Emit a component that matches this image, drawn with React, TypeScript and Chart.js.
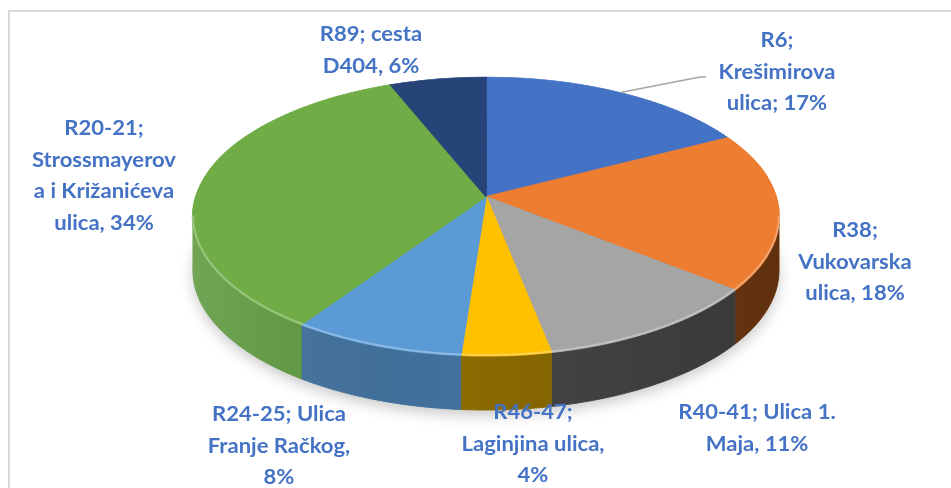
import React, { useEffect, useRef } from 'react';
import { Chart, registerables } from 'chart.js';

Chart.register(...registerables);

// ---- data ----
const categories = [
  'R6; Krešimirova ulica',
  'R38; Vukovarska ulica',
  'R40-41; Ulica 1. Maja',
  'R46-47; Laginjina ulica',
  'R24-25; Ulica Franje Račkog',
  'R20-21; Strossmayerova i Križanićeva ulica',
  'R89; cesta D404',
];
const values = [17.4, 18.3, 11.2, 4.3, 8.3, 34.4, 6.1];
// label text as wrapped in the picture; {p} is replaced by the percentage
const labelLines = [
  ['R6;', 'Krešimirova', 'ulica; {p}'],
  ['R38;', 'Vukovarska', 'ulica, {p}'],
  ['R40-41; Ulica 1.', 'Maja, {p}'],
  ['R46-47;', 'Laginjina ulica,', '{p}'],
  ['R24-25; Ulica', 'Franje Račkog,', '{p}'],
  ['R20-21;', 'Strossmayerov', 'a i Križanićeva', 'ulica, {p}'],
  ['R89; cesta', 'D404, {p}'],
];

// ---- styles / layout ----
const COLORS = ['#4472C4', '#ED7D31', '#A5A5A5', '#FFC000', '#5B9BD5', '#70AD47', '#264478'];
const SIDE_COLORS = ['#2f5597', '#7a3d12', '#474747', '#8c6b00', '#41719c', '#5f9a3f', '#1d3560'];
const DEPTH = 54;
const PERSPECTIVE = 1 / 7;
const STRIP = 2;
const LABEL_COLOR = '#4472C4';
const LABEL_FONT = '700 21px Lato';
const LABEL_XSCALE = 1.05;
const LINE_H = 31.5;
// [center x, first baseline y]
const LABEL_POS: [number, number][] = [
  [777, 47],
  [855, 237],
  [757, 419],
  [533, 419],
  [279, 421],
  [104, 135],
  [371, 41],
];
const LEADER_END: [number, number, number][] = [[700, 77, 706]]; // for slice 0

function geometry(chart: any) {
  const a = chart.chartArea;
  const k = PERSPECTIVE;
  const H = a.bottom - a.top - DEPTH;
  const B = (H * (1 - k * k)) / 2;
  const ay = a.top + B / (1 + k);
  const rx = (a.right - a.left) / 2;
  const A = rx * Math.sqrt(1 - k * k);
  const cx = (a.left + a.right) / 2;
  const project = (u: number, v: number): [number, number] => {
    const d = 1 - k * v;
    return [cx + (A * u) / d, ay + (B * v) / d];
  };
  return { cx, ay, A, B, k, H, top: a.top, project };
}

const pie3d = {
  id: 'pie3d',
  beforeDraw(chart: any) {
    const ctx = chart.ctx;
    ctx.save();
    ctx.strokeStyle = '#D9D9D9';
    ctx.lineWidth = 2;
    ctx.beginPath();
    ctx.moveTo(9, chart.height + 4);
    ctx.lineTo(9, 11);
    ctx.lineTo(chart.width + 4, 11);
    ctx.stroke();
    ctx.restore();
  },
  beforeDatasetsDraw(chart: any) {
    const ctx = chart.ctx;
    const arcs = chart.getDatasetMeta(0).data as any[];
    if (!arcs.length) return;
    const { cx, ay, A, B, k, H, top, project } = geometry(chart);
    const a0 = arcs[0];
    const cx0 = a0.x, cy0 = a0.y, r0 = a0.outerRadius;

    const rimPath = (t1: number, t2: number, dy: number, move: boolean) => {
      const n = Math.max(2, Math.ceil(Math.abs(t2 - t1) / 0.01));
      for (let j = 0; j <= n; j++) {
        const t = t1 + ((t2 - t1) * j) / n;
        const [x, y] = project(Math.cos(t), Math.sin(t));
        if (j === 0 && move) ctx.moveTo(x, y + dy);
        else ctx.lineTo(x, y + dy);
      }
    };

    // soft shadow
    ctx.save();
    ctx.filter = 'blur(7px)';
    ctx.fillStyle = 'rgba(0,0,0,0.22)';
    ctx.beginPath();
    rimPath(0, Math.PI * 2, DEPTH + 5, true);
    ctx.closePath();
    ctx.fill();
    ctx.restore();

    // side walls (front-facing part of each slice's rim)
    const f1 = Math.asin(k), f2 = Math.PI - Math.asin(k);
    const [lx] = project(-1, 0);
    const [rxp] = project(1, 0);
    arcs.forEach((arc, i) => {
      const t1 = Math.max(arc.startAngle, f1);
      const t2 = Math.min(arc.endAngle, f2);
      if (t2 <= t1) return;
      ctx.save();
      ctx.beginPath();
      rimPath(t1, t2, 0, true);
      rimPath(t2, t1, DEPTH, false);
      ctx.closePath();
      ctx.fillStyle = SIDE_COLORS[i];
      ctx.strokeStyle = SIDE_COLORS[i];
      ctx.lineWidth = 1;
      ctx.fill();
      ctx.stroke();
      const g = ctx.createLinearGradient(lx - 10, 0, rxp + 10, 0);
      g.addColorStop(0, 'rgba(255,255,255,0.12)');
      g.addColorStop(0.45, 'rgba(0,0,0,0)');
      g.addColorStop(1, 'rgba(0,0,0,0.22)');
      ctx.fillStyle = g;
      ctx.fill();
      ctx.restore();
    });

    // top face: library arcs drawn through a perspective projection, strip by strip
    for (let ys = Math.floor(top) - 1; ys < top + H + 2; ys += STRIP) {
      const y0 = ys + STRIP / 2;
      const dy = y0 - ay;
      const v0 = dy / (B + k * dy);
      const den = 1 - k * v0;
      const s = A / den;
      const gy = B / (den * den);
      ctx.save();
      ctx.beginPath();
      ctx.rect(0, ys, chart.width, STRIP);
      ctx.clip();
      ctx.translate(cx, y0);
      ctx.scale(s / r0, gy / r0);
      ctx.translate(-cx0, -(cy0 + v0 * r0));
      arcs.forEach((arc) => arc.draw(ctx));
      ctx.restore();
    }

    // rim highlight
    ctx.save();
    ctx.strokeStyle = 'rgba(255,255,255,0.3)';
    ctx.lineWidth = 2;
    ctx.beginPath();
    rimPath(f1, f2, -1, true);
    ctx.stroke();
    ctx.restore();
    return false;
  },
  afterDraw(chart: any) {
    const ctx = chart.ctx;
    const arcs = chart.getDatasetMeta(0).data as any[];
    const { project } = geometry(chart);
    const total = values.reduce((s, v) => s + v, 0);
    LEADER_END.forEach(([ex, ey, ex2], i) => {
      const arc = arcs[i];
      const mid = (arc.startAngle + arc.endAngle) / 2;
      const [sx, sy] = project(Math.cos(mid), Math.sin(mid));
      ctx.save();
      ctx.strokeStyle = '#A6A6A6';
      ctx.lineWidth = 1.5;
      ctx.beginPath();
      ctx.moveTo(sx, sy);
      ctx.lineTo(ex, ey);
      ctx.lineTo(ex2, ey);
      ctx.stroke();
      ctx.restore();
    });
    ctx.save();
    ctx.font = LABEL_FONT;
    ctx.fillStyle = LABEL_COLOR;
    ctx.textAlign = 'center';
    ctx.textBaseline = 'alphabetic';
    labelLines.forEach((lines, i) => {
      const p = Math.round((values[i] / total) * 100) + '%';
      const [x, y] = LABEL_POS[i];
      lines.forEach((ln, j) => {
        ctx.save();
        ctx.translate(x, y + j * LINE_H);
        ctx.scale(LABEL_XSCALE, 1);
        ctx.fillText(ln.replace('{p}', p), 0, 0);
        ctx.restore();
      });
    });
    ctx.restore();
  },
};

export default function App() {
  const ref = useRef<HTMLCanvasElement>(null);
  useEffect(() => {
    if (!ref.current) return;
    const chart = new Chart(ref.current, {
      type: 'pie',
      data: {
        labels: categories,
        datasets: [
          {
            data: values,
            backgroundColor: COLORS,
            borderColor: COLORS,
            borderWidth: 1,
          },
        ],
      },
      options: {
        responsive: false,
        animation: false,
        layout: { padding: { left: 193, right: 172, top: 77, bottom: 78 } },
        plugins: { legend: { display: false }, tooltip: { enabled: false } },
      },
      plugins: [pie3d],
    } as any);
    return () => chart.destroy();
  }, []);
  return (
    <div style={{ position: 'fixed', left: 0, top: 0, width: 951, height: 488, background: '#fff' }}>
      <canvas ref={ref} width={951} height={488} />
    </div>
  );
}
